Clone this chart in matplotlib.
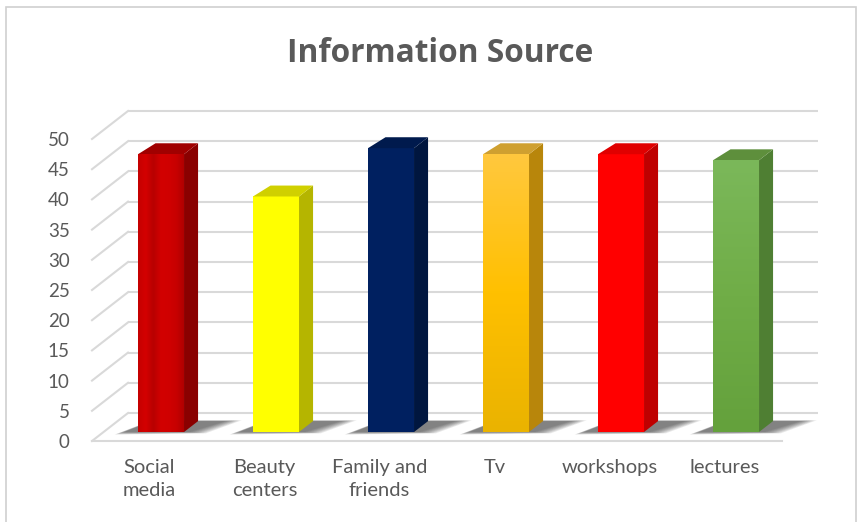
import numpy as np
import matplotlib
matplotlib.use("Agg")
import matplotlib.pyplot as plt
from matplotlib.patches import Polygon, Rectangle
import matplotlib.colors as mcolors

# ---- data -------------------------------------------------------------
categories = ["Social\nmedia", "Beauty\ncenters", "Family and\nfriends",
              "Tv", "workshops", "lectures"]
values = [46, 39, 47, 46, 46, 45]
y_ticks = list(range(0, 55, 5))
title = "Information Source"

front_colors = ["#CC0000", "#FFFF00", "#002060", "#FFC000", "#FF0000", "#70AD47"]
side_colors = ["#8A0000", "#B5B500", "#00163F", "#B8860B", "#BF0000", "#4F7F33"]
top_colors = ["#A00000", "#D0D000", "#001A4D", "#CFA030", "#E00000", "#5E8F3C"]

# ---- oblique 3-D geometry (data units) ---------------------------------
DX = 36 / 115          # horizontal shift from front to back wall
DY = 28 / 6.04         # vertical shift from front to back wall
T_F, T_B = 0.32, 0.71  # depth of bar front / back faces
BAR_W = 0.40
GRID = "#D9D9D9"
TEXT = "#595959"

W, H = 862, 522
fig = plt.figure(figsize=(W / 100, H / 100), dpi=100)
fig.patch.set_facecolor("white")

# thin frame around the chart area
frame = Rectangle((6 / W, -0.05), 850 / W, 1.05 - 7 / H, transform=fig.transFigure,
                  fill=False, edgecolor="#D0D0D0", lw=1.2)
fig.patches.append(frame)

ax = fig.add_axes([92 / W, (H - 441) / H, 690 / W, 302 / H])
ax.set_facecolor("none")
n = len(values)
xc = np.arange(n) + 0.5

# back wall gridlines and left wall diagonals
for v in y_ticks:
    ax.plot([DX, n + DX], [v + DY, v + DY], color=GRID, lw=1.5, zorder=1,
            clip_on=False, solid_capstyle="butt")
    ax.plot([0, DX], [v, v + DY], color=GRID, lw=1.5, zorder=1, clip_on=False)
ax.plot([0, n], [0, 0], color=GRID, lw=1.5, zorder=1, clip_on=False)

# soft floor shadows under the bars
b_f, b_b = DY * T_F, DY * T_B
for x0 in xc:
    xl, xr = x0 - BAR_W / 2, x0 + BAR_W / 2
    for k, e in enumerate(np.linspace(0.14, 0.0, 8)):
        pts = [(xl - 0.12 - e * 0.6 + DX * T_F, b_f - e * 3.0),
               (xr + 0.05 + e + DX * T_F, b_f - e * 1.5),
               (xr + 0.24 + e + DX * T_B, b_b + e * 1.0),
               (xl + DX * T_B, b_b + e * 1.0)]
        ax.add_patch(Polygon(pts, closed=True, facecolor="#333333",
                             edgecolor="none", alpha=0.11, zorder=2, clip_on=False))

# bars: front faces
bars = ax.bar(xc + DX * T_F, values, width=BAR_W, bottom=b_f,
              color=front_colors, zorder=4, clip_on=False, linewidth=0)

# gradients on some front faces
def shade(bar, cols, vertical=True):
    x0, y0 = bar.get_x(), bar.get_y()
    w, h = bar.get_width(), bar.get_height()
    cmap = mcolors.LinearSegmentedColormap.from_list("g", cols)
    grad = np.linspace(0, 1, 256)
    img = grad[:, None] if vertical else grad[None, :]
    im = ax.imshow(img, cmap=cmap, extent=(x0, x0 + w, y0, y0 + h),
                   origin="lower", aspect="auto", zorder=4.5,
                   interpolation="bicubic")
    im.set_clip_path(bar)

shade(bars[0], ["#C40000", "#D40000", "#B80000", "#D20000", "#D00000",
                "#C80000", "#B00000"], vertical=False)
shade(bars[3], ["#EAB300", "#FFC000", "#FFC83E"])
shade(bars[5], ["#64A13C", "#70AD47", "#7BB85A"])

# side and top faces
for x0, v, sc, tc in zip(xc, values, side_colors, top_colors):
    xl, xr = x0 - BAR_W / 2, x0 + BAR_W / 2
    side = [(xr + DX * T_F, b_f), (xr + DX * T_B, b_b),
            (xr + DX * T_B, b_b + v), (xr + DX * T_F, b_f + v)]
    top = [(xl + DX * T_F, b_f + v), (xr + DX * T_F, b_f + v),
           (xr + DX * T_B, b_b + v), (xl + DX * T_B + 0.03, b_b + v)]
    ax.add_patch(Polygon(side, closed=True, facecolor=sc, edgecolor="none",
                         zorder=4, clip_on=False))
    ax.add_patch(Polygon(top, closed=True, facecolor=tc, edgecolor="none",
                         zorder=4, clip_on=False))

ax.set_xlim(0, n)
ax.set_ylim(0, 50)
ax.set_yticks(y_ticks)
ax.set_xticks(xc)
ax.set_xticklabels(categories)
ax.tick_params(axis="y", length=0, pad=16, labelsize=13.5, labelcolor=TEXT)
ax.tick_params(axis="x", length=0, pad=13, labelsize=14.5, labelcolor=TEXT)
for lab in ax.get_xticklabels() + ax.get_yticklabels():
    lab.set_fontfamily("Lato")
for lab in ax.get_xticklabels():
    lab.set_linespacing(1.4)
for s in ax.spines.values():
    s.set_visible(False)

fig.text(440 / W, 1 - 53 / H, title, ha="center", va="center",
         fontsize=22.8, fontweight="bold", color=TEXT, family="Open Sans")

fig.savefig("out.png", dpi=100, facecolor="white")
